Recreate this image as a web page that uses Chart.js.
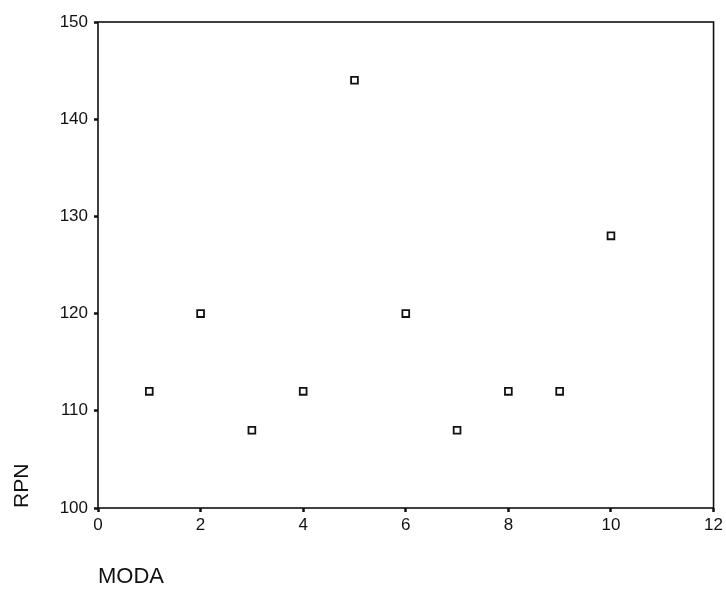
<!DOCTYPE html>
<html>
<head>
<meta charset="utf-8">
<script src="https://cdn.jsdelivr.net/npm/chart.js@4/dist/chart.umd.min.js"></script>
<style>
  html, body { margin: 0; padding: 0; background: #fff; }
  #wrap { width: 726px; height: 592px; position: relative; }
</style>
</head>
<body>
<div id="wrap"><canvas id="c"></canvas></div>
<script>
// RPN per failure mode
const modeNumbers = [1, 2, 3, 4, 5, 6, 7, 8, 9, 10];
const rpnValues = [112, 120, 108, 112, 144, 120, 108, 112, 112, 128];
const xTicks = [0, 2, 4, 6, 8, 10, 12];
const yTicks = [100, 110, 120, 130, 140, 150];

const INK = '#111';
const FONT = '"Liberation Sans", Arial, sans-serif';

// full box around the plot area, like the SPSS frame
const frame = {
  id: 'frame',
  afterDatasetsDraw(chart) {
    const { ctx, chartArea: a } = chart;
    ctx.save();
    ctx.strokeStyle = INK;
    ctx.lineWidth = 1.6;
    ctx.strokeRect(a.left, a.top, a.right - a.left, a.bottom - a.top);
    ctx.restore();
  }
};

const points = modeNumbers.map((x, i) => ({ x, y: rpnValues[i] }));

new Chart(document.getElementById('c'), {
  type: 'scatter',
  data: {
    datasets: [{
      data: points,
      pointStyle: 'rect',
      pointRadius: 4.8,
      pointBorderWidth: 1.8,
      borderColor: INK,
      backgroundColor: '#fff'
    }]
  },
  options: {
    responsive: true,
    maintainAspectRatio: false,
    animation: false,
    layout: { padding: { top: 22, right: 9, left: 0, bottom: 0 } },
    plugins: { legend: { display: false }, tooltip: { enabled: false } },
    scales: {
      x: {
        type: 'linear',
        min: xTicks[0],
        max: xTicks[xTicks.length - 1],
        afterBuildTicks: (s) => { s.ticks = xTicks.map(v => ({ value: v })); },
        afterFit: (s) => { s.height = 84; },
        grid: { drawOnChartArea: false, drawTicks: true, tickLength: 4, tickWidth: 2.5, tickColor: INK },
        border: { display: false },
        ticks: { color: INK, padding: 3, maxRotation: 0, font: { family: FONT, size: 17 } },
        title: {
          display: true, text: 'MODA', align: 'start', color: INK,
          font: { family: FONT, size: 22 }, padding: { top: 0, bottom: 2 }
        }
      },
      y: {
        min: yTicks[0],
        max: yTicks[yTicks.length - 1],
        afterBuildTicks: (s) => { s.ticks = yTicks.map(v => ({ value: v })); },
        afterFit: (s) => { s.width = 98; },
        grid: { drawOnChartArea: false, drawTicks: true, tickLength: 4, tickWidth: 2.5, tickColor: INK },
        border: { display: false },
        ticks: { color: INK, padding: 6, font: { family: FONT, size: 17 } },
        title: {
          display: true, text: 'RPN', align: 'start', color: INK,
          font: { family: FONT, size: 21 }, padding: { top: 10, bottom: 0 }
        }
      }
    }
  },
  plugins: [frame]
});
</script>
</body>
</html>
